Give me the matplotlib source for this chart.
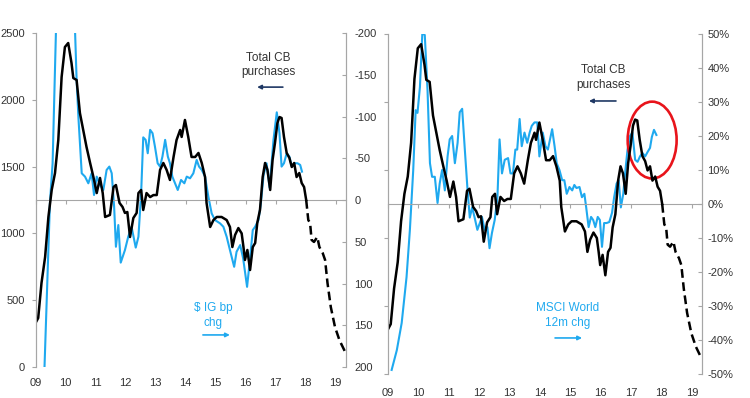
import matplotlib
matplotlib.use("Agg")
import matplotlib.pyplot as plt
from matplotlib.patches import Ellipse

plt.rcParams['font.family'] = ['Liberation Sans', 'DejaVu Sans']

# x axis
year_ticks = list(range(2009, 2020))
year_labels = ["09", "10", "11", "12", "13", "14", "15", "16", "17", "18", "19"]

# Total CB purchases (left axis, same series in both panels), actual part
cb_year = [2009.0, 2009.09, 2009.2, 2009.32, 2009.43, 2009.54, 2009.65, 2009.76, 2009.87,
           2009.98, 2010.09, 2010.2, 2010.26, 2010.37, 2010.48, 2010.59, 2010.7, 2010.82,
           2010.93, 2011.04, 2011.15, 2011.24, 2011.32, 2011.48, 2011.6, 2011.68, 2011.8,
           2011.9, 2011.98, 2012.06, 2012.15, 2012.26, 2012.37, 2012.43, 2012.52, 2012.59,
           2012.7, 2012.82, 2012.93, 2013.04, 2013.15, 2013.26, 2013.37, 2013.48, 2013.6,
           2013.7, 2013.82, 2013.87, 2013.98, 2014.09, 2014.2, 2014.32, 2014.43, 2014.54,
           2014.65, 2014.7, 2014.82, 2014.93, 2015.04, 2015.2, 2015.37, 2015.48, 2015.56,
           2015.65, 2015.76, 2015.87, 2015.93, 2015.98, 2016.06, 2016.15, 2016.24, 2016.32,
           2016.39, 2016.48, 2016.57, 2016.65, 2016.73, 2016.82, 2016.9, 2016.98, 2017.06,
           2017.13, 2017.2, 2017.28, 2017.37, 2017.46, 2017.54, 2017.62, 2017.7, 2017.79,
           2017.87, 2017.95, 2018.02]
cb_value = [329, 367, 629, 823, 1123, 1325, 1452, 1699, 2170,
            2395, 2425, 2275, 2163, 2148, 1901, 1774, 1647, 1527,
            1422, 1302, 1415, 1302, 1123, 1138, 1347, 1362, 1228,
            1198, 1153, 1160, 973, 1115, 1153, 1302, 1325, 1175,
            1302, 1272, 1287, 1287, 1475, 1527, 1475, 1400, 1572,
            1699, 1774, 1722, 1849, 1722, 1572, 1572, 1602, 1527,
            1422, 1228, 1048, 1100, 1123, 1123, 1100, 1048, 898,
            988, 1040, 1000, 898, 801, 876, 726, 898, 928,
            1078, 1175, 1422, 1527, 1475, 1325, 1550, 1677, 1826,
            1871, 1864, 1722, 1602, 1565, 1497, 1527, 1422, 1452,
            1377, 1347, 1250]
# projected part (dashed)
cb_proj_year = [2018.02, 2018.09, 2018.15, 2018.2, 2018.28, 2018.39, 2018.46, 2018.57,
                2018.65, 2018.73, 2018.84, 2018.98, 2019.13, 2019.32]
cb_proj_value = [1250, 1100, 1078, 951, 936, 973, 898, 853,
                 801, 629, 449, 299, 200, 112]

# $ IG bp chg (right axis, inverted)
ig_year = [2009.3, 2009.48, 2009.57, 2009.68, 2009.85, 2010.05, 2010.25, 2010.32, 2010.37,
           2010.43, 2010.54, 2010.65, 2010.76, 2010.87, 2010.95, 2011.04, 2011.15, 2011.26,
           2011.37, 2011.46, 2011.54, 2011.62, 2011.68, 2011.76, 2011.84, 2011.98, 2012.09,
           2012.2, 2012.34, 2012.43, 2012.52, 2012.59, 2012.67, 2012.74, 2012.82, 2012.9,
           2012.98, 2013.07, 2013.15, 2013.23, 2013.32, 2013.41, 2013.48, 2013.56, 2013.65,
           2013.74, 2013.85, 2013.96, 2014.04, 2014.15, 2014.26, 2014.37, 2014.45, 2014.54,
           2014.65, 2014.76, 2014.87, 2014.98, 2015.15, 2015.26, 2015.37, 2015.48, 2015.62,
           2015.7, 2015.82, 2015.92, 2016.05, 2016.15, 2016.24, 2016.32, 2016.43, 2016.51,
           2016.6, 2016.7, 2016.8, 2016.87, 2016.93, 2017.04, 2017.13, 2017.2, 2017.28,
           2017.37, 2017.46, 2017.54, 2017.62, 2017.73, 2017.82, 2017.88]
ig_chg = [200, 4, -44, -200, -380, -420, -330, -200, -144,
          -99, -32, -28, -20, -32, -6, -28, -18, -12,
          -36, -40, -32, 8, 56, 30, 75, 60, 44,
          32, 57, 44, -8, -75, -72, -56, -84, -80,
          -64, -44, -40, -52, -72, -52, -44, -28, -20,
          -12, -24, -20, -28, -26, -32, -48, -40, -36,
          -28, -4, 16, 24, 28, 32, 44, 60, 80,
          62, 54, 70, 104, 70, 36, 32, 24, 4,
          -30, -44, -15, -45, -72, -105, -80, -40, -44,
          -56, -52, -40, -44, -44, -42, -34]

# MSCI World 12m chg (right axis, %)
msci_year = [2009.12, 2009.29, 2009.45, 2009.61, 2009.72, 2009.83, 2009.91, 2009.97, 2010.05,
             2010.13, 2010.21, 2010.3, 2010.38, 2010.45, 2010.54, 2010.63, 2010.7, 2010.78,
             2010.87, 2010.96, 2011.03, 2011.11, 2011.2, 2011.29, 2011.36, 2011.44, 2011.52,
             2011.61, 2011.69, 2011.77, 2011.85, 2011.94, 2012.02, 2012.09, 2012.18, 2012.27,
             2012.34, 2012.42, 2012.51, 2012.6, 2012.67, 2012.75, 2012.84, 2012.95, 2013.03,
             2013.11, 2013.19, 2013.25, 2013.33, 2013.4, 2013.49, 2013.58, 2013.66, 2013.73,
             2013.82, 2013.91, 2013.98, 2014.09, 2014.18, 2014.26, 2014.33, 2014.4, 2014.48,
             2014.55, 2014.64, 2014.73, 2014.8, 2014.88, 2014.97, 2015.06, 2015.13, 2015.2,
             2015.3, 2015.38, 2015.46, 2015.52, 2015.6, 2015.68, 2015.75, 2015.82, 2015.9,
             2015.97, 2016.04, 2016.11, 2016.19, 2016.28, 2016.37, 2016.44, 2016.52, 2016.59,
             2016.66, 2016.74, 2016.8, 2016.88, 2016.96, 2017.04, 2017.13, 2017.21, 2017.29,
             2017.37, 2017.46, 2017.54, 2017.62, 2017.68, 2017.75, 2017.83]
msci_chg = [-48.8, -43, -35, -21.5, -7.6, 10, 27.6, 26.8, 34.4,
            50.3, 49.7, 33.5, 12, 8, 8, 0.3, 6, 10,
            4, 14, 19, 20, 12, 18, 27, 28, 17,
            5, -4, -1, -4, -7.6, -5.6, -3.8, -7.6, -6.8,
            -13, -8.5, -4.7, 2, 19, 9, 13, 13.5, 9,
            9, 16, 16, 25, 17, 21, 18, 21, 23,
            24, 24, 14, 21, 17, 16, 19, 22, 17,
            12, 10, 7, 7, 3, 5, 4, 5.6, 4.7,
            5, 2, 3, -1, -6.8, -3.8, -4.7, -6.8, -3.8,
            -4.7, -12.6, -5.6, -5.6, -5.3, -2.6, 2, 6, 7,
            -1, 3, 9, 16, 20, 21, 13, 12.4, 14,
            15, 14, 15.3, 16.5, 19.7, 21.8, 20.3]

# right-axis ticks
ig_ticks = [-200, -150, -100, -50, 0, 50, 100, 150, 200]
msci_ticks = [-50, -40, -30, -20, -10, 0, 10, 20, 30, 40, 50]
cb_ticks = [0, 500, 1000, 1500, 2000, 2500]

BLUE = "#1fa9ef"
AXIS_GREY = "#a6a6a6"
TEXT = "#333333"
ARROW_NAVY = "#1f3864"

fig = plt.figure(figsize=(7.5, 3.98), dpi=100)


def draw_panel(rect, blue_x, blue_y, rlim, rticks, rlabels, show_left_labels,
               xpad, rpad):
    ax = fig.add_axes(rect)
    ax2 = ax.twinx()
    ax.set_zorder(ax2.get_zorder() + 1)
    ax.patch.set_visible(False)

    ax2.plot(blue_x, blue_y, color=BLUE, lw=1.5)
    ax.plot(cb_year, cb_value, color="black", lw=1.8)
    ax.plot(cb_proj_year, cb_proj_value, color="black", lw=1.8,
            linestyle=(0, (3.5, 1.8)))

    ax.set_xlim(2009, 2019.33)
    ax.set_ylim(0, 2500)
    ax2.set_ylim(*rlim)

    ax.set_xticks(year_ticks)
    ax.set_xticklabels(year_labels)
    ax.tick_params(axis="x", length=0, pad=xpad, labelsize=8, labelcolor=TEXT)
    ax.set_yticks(cb_ticks)
    ax.tick_params(axis="y", direction="out", length=3, color=AXIS_GREY,
                   labelsize=8, labelcolor=TEXT, pad=4.5)
    if not show_left_labels:
        ax.set_yticklabels([])

    ax2.set_yticks(rticks)
    ax2.set_yticklabels(rlabels)
    ax2.tick_params(axis="y", direction="in", length=3, color=AXIS_GREY,
                    labelsize=8, labelcolor=TEXT, pad=rpad)

    for a in (ax, ax2):
        a.spines["top"].set_visible(False)
        a.spines["bottom"].set_visible(False)
        a.spines["left"].set_color(AXIS_GREY)
        a.spines["right"].set_color(AXIS_GREY)

    # horizontal axis through the middle with small year ticks
    mid = ax.secondary_xaxis(0.5)
    mid.set_alignment("bottom")
    mid.set_xticks(year_ticks)
    mid.set_xticklabels([])
    mid.tick_params(axis="x", direction="out", length=3, color=AXIS_GREY)
    mid.spines["bottom"].set_color(AXIS_GREY)
    mid.spines["top"].set_visible(False)
    return ax, ax2


def label_with_arrow(ax, text, color, tx, ty, ay, ax0, ax1, arrow_color):
    ax.text(tx, ty, text, transform=ax.transAxes, ha="center", va="center",
            fontsize=8.5, color=color, linespacing=1.25)
    ax.annotate("", xy=(ax1, ay), xytext=(ax0, ay), xycoords="axes fraction",
                textcoords="axes fraction",
                arrowprops=dict(arrowstyle="-|>", color=arrow_color, lw=1.2,
                                mutation_scale=6, shrinkA=0, shrinkB=0))


# left panel: $ IG spreads
axL, axL2 = draw_panel([35.5 / 750, 31 / 398, 310 / 750, 334 / 398],
                       ig_year, ig_chg, (200, -200), ig_ticks,
                       [str(t) for t in ig_ticks], True, 8, 6.5)
label_with_arrow(axL, "Total CB\npurchases", TEXT, 0.75, 0.904, 0.838, 0.798, 0.715,
                 ARROW_NAVY)
label_with_arrow(axL, "$ IG bp\nchg", BLUE, 0.573, 0.154, 0.096, 0.540, 0.627, BLUE)

# right panel: MSCI World
axR, axR2 = draw_panel([388 / 750, 24 / 398, 314 / 750, 340 / 398],
                       msci_year, msci_chg, (-50, 50), msci_ticks,
                       [f"{t}%" for t in msci_ticks], False, 10, 4)
label_with_arrow(axR, "Total CB\npurchases", TEXT, 0.685, 0.872, 0.803, 0.726, 0.640,
                 ARROW_NAVY)
label_with_arrow(axR, "MSCI World\n12m chg", BLUE, 0.573, 0.172, 0.106, 0.532, 0.618,
                 BLUE)

axR.add_patch(Ellipse((2017.69, 18.8), 1.61, 22.6, transform=axR2.transData,
                      fill=False, edgecolor="#e8141b", lw=1.9, clip_on=False))
axR.set_ylim(0, 2500)

fig.savefig("out.png", dpi=100)
